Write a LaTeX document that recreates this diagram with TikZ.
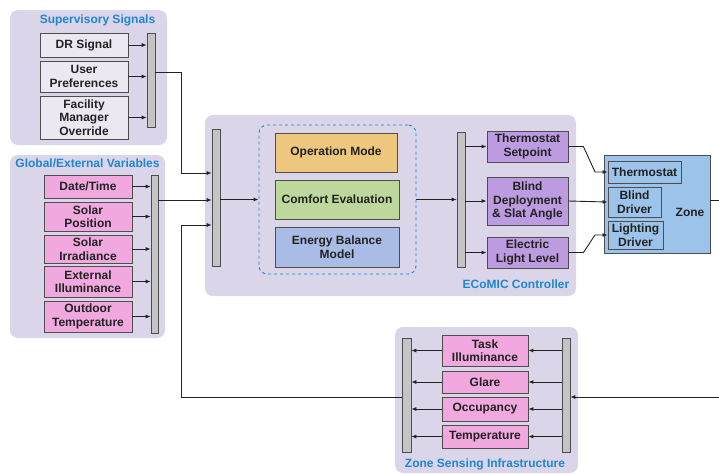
\documentclass[tikz,border=0pt]{standalone}
\usepackage{fontspec}
\setmainfont{Liberation Sans}
\usetikzlibrary{arrows.meta,calc}
\definecolor{panelfill}{HTML}{DAD5E8}
\definecolor{pinkfill}{HTML}{F0A8DE}
\definecolor{purplefill}{HTML}{BC9BE0}
\definecolor{zonefill}{HTML}{9CC3EA}
\definecolor{opfill}{HTML}{EDC77E}
\definecolor{comfortfill}{HTML}{BCD89C}
\definecolor{energyfill}{HTML}{A9BCE6}
\definecolor{barfill}{HTML}{C4C4C4}
\definecolor{sigfill}{HTML}{ECE8F2}
\definecolor{titleblue}{HTML}{1F86D0}
\definecolor{ink}{HTML}{222222}
\tikzset{
  panel/.style={draw=none, fill=panelfill, rounded corners=8pt},
  ptitle/.style={text=titleblue, font=\fontsize{12}{13}\selectfont\bfseries},
  blk/.style={draw=ink!80, line width=0.8pt, text=ink, align=center, inner sep=0pt,
    font=\fontsize{12}{13.5}\selectfont\bfseries},
  sigbox/.style={blk, fill=sigfill},
  pinkbox/.style={blk, fill=pinkfill},
  outbox/.style={blk, fill=purplefill},
  zonebox/.style={blk, fill=zonefill},
  busbar/.style={draw=ink!80, line width=0.6pt, fill=barfill, inner sep=0pt},
  arr/.style={draw=ink, line width=0.9pt, -{Latex[length=5pt,width=4pt]}},
}
\newcommand{\boxat}[6]{\node[#1, minimum width=#4, minimum height=#5] (#2) at #3 {#6};}
\begin{document}
\begin{tikzpicture}[x=1pt,y=-1pt]
\useasboundingbox (0,0) rectangle (719,474);
\fill[white] (0,0) rectangle (719,474);

% ---------- panels ----------
\boxat{panel}{supP}{(88.5,77.5)}{157pt}{135pt}{}
\boxat{panel}{gloP}{(87.5,246.5)}{155pt}{183pt}{}
\boxat{panel}{ctlP}{(390.5,205.5)}{371pt}{181pt}{}
\boxat{panel}{senP}{(486.5,400)}{183pt}{146pt}{}

\node[ptitle] (supT) at (97.5,20) {Supervisory Signals};
\node[ptitle] (gloT) at (87.5,163) {Global/External Variables};
\node[ptitle] (ctlT) at (516,284) {ECoMIC Controller};
\node[ptitle] (senT) at (485,464) {Zone Sensing Infrastructure};

% ---------- supervisory signals ----------
\boxat{sigbox}{dr}{(84,45)}{88pt}{24pt}{DR Signal}
\boxat{sigbox}{up}{(84,76.5)}{88pt}{31pt}{User\\Preferences}
\boxat{sigbox}{fmo}{(84,117.5)}{88pt}{43pt}{Facility\\Manager\\Override}
\boxat{busbar}{barS}{(151,80)}{8pt}{94pt}{}
\foreach \b in {dr,up,fmo} \draw[arr] (\b.east) -- (\b.east -| barS.west);

% ---------- global / external variables ----------
\boxat{pinkbox}{dt}{(88,186.5)}{88pt}{23pt}{Date/Time}
\boxat{pinkbox}{sp}{(88,216.5)}{88pt}{29pt}{Solar\\Position}
\boxat{pinkbox}{si}{(88,249)}{88pt}{28pt}{Solar\\Irradiance}
\boxat{pinkbox}{ei}{(88,281.5)}{88pt}{31pt}{External\\Illuminance}
\boxat{pinkbox}{ot}{(88,316.5)}{88pt}{31pt}{Outdoor\\Temperature}
\boxat{busbar}{barG}{(154.5,254)}{7pt}{158pt}{}
\foreach \b in {dt,sp,si,ei,ot} \draw[arr] (\b.east) -- (\b.east -| barG.west);

% ---------- controller ----------
\boxat{busbar}{barM}{(216,197.5)}{8pt}{137pt}{}
\node[draw=titleblue, dashed, line width=0.9pt, rounded corners=8pt,
      minimum width=157pt, minimum height=149pt] (core) at (337.5,199.5) {};
\boxat{blk, fill=opfill}{opm}{(336,152.5)}{122pt}{39pt}{Operation Mode}
\boxat{blk, fill=comfortfill}{cev}{(337,199.5)}{124pt}{39pt}{Comfort Evaluation}
\boxat{blk, fill=energyfill}{ebm}{(337,247)}{124pt}{40pt}{Energy Balance\\Model}
\boxat{busbar}{barR}{(461,199.5)}{8pt}{135pt}{}
\draw[arr] (core.west -| barM.east) -- (core.west);
\draw[arr] (core.east) -- (core.east -| barR.west);

\boxat{outbox}{tsp}{(527.5,146.5)}{81pt}{31pt}{Thermostat\\Setpoint}
\boxat{outbox}{bds}{(527.5,201)}{81pt}{48pt}{Blind\\Deployment\\\& Slat Angle}
\boxat{outbox}{ell}{(527.5,252.5)}{81pt}{31pt}{Electric\\Light Level}
\foreach \b in {tsp,bds,ell} \draw[arr] (\b.west -| barR.east) -- (\b.west);

% ---------- inputs to the controller ----------
\coordinate (jx) at (181,0);
\draw[arr] ([yshift=8pt]barS.east) -| (jx |- 0,173) -- (barM.west |- 0,173);
\draw[arr] (barG.east |- 0,200) -- (barM.west |- 0,200);

% ---------- zone ----------
\boxat{zonebox}{zone}{(657,204)}{106pt}{98pt}{}
\node[text=ink, font=\fontsize{12}{13}\selectfont\bfseries] (zoneT) at (690,212) {Zone};
\boxat{zonebox}{thm}{(644.5,172)}{73pt}{22pt}{Thermostat}
\boxat{zonebox}{bdr}{(634.5,202)}{53pt}{30pt}{Blind\\Driver}
\boxat{zonebox}{ldr}{(635.5,235)}{55pt}{28pt}{Lighting\\Driver}

\draw[arr] (tsp.east) -- ++(15,0) -- (595,172) -- (thm.west);
\draw[arr] (bds.east) -- (bdr.west);
\draw[arr] (ell.east) -- ++(15,0) -- (595,235) -- (ldr.west);

% ---------- zone sensing ----------
\boxat{busbar}{barZL}{(406.5,395)}{9pt}{114pt}{}
\boxat{busbar}{barZR}{(566,395)}{8pt}{114pt}{}
\boxat{pinkbox}{til}{(485,350.5)}{86pt}{31pt}{Task\\Illuminance}
\boxat{pinkbox}{gla}{(485,382)}{86pt}{22pt}{Glare}
\boxat{pinkbox}{occ}{(485,409)}{86pt}{24pt}{Occupancy}
\boxat{pinkbox}{tmp}{(485,436.5)}{86pt}{23pt}{Temperature}
\foreach \b in {til,gla,occ,tmp} {
  \draw[arr] (\b.east -| barZR.west) -- (\b.east);
  \draw[arr] (\b.west) -- (\b.west -| barZL.east);
}

% ---------- feedback loop ----------
\coordinate (rx) at (730,0);
\draw[arr] ([yshift=4pt]zone.east) -- (rx |- 0,200) -- (rx |- 0,397) -- (barZR.east |- 0,397);
\draw[arr] (barZL.west |- 0,397) -| (jx |- 0,225) -- (barM.west |- 0,225);
\end{tikzpicture}
\end{document}
